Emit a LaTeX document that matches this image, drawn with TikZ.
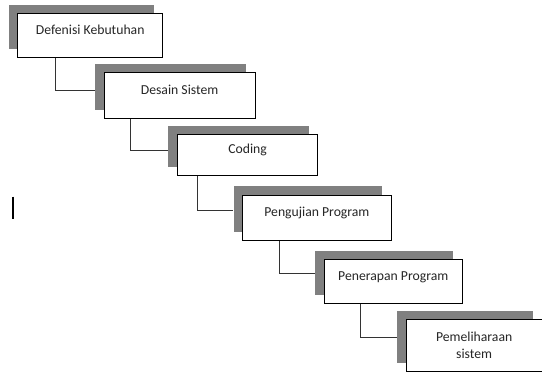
\documentclass[tikz,border=0pt]{standalone}
\usepackage{fontspec}
\setmainfont{Carlito}
\usetikzlibrary{shadows}

\begin{document}
\begin{tikzpicture}[
        x=1pt, y=-1pt,
        stage/.style={rectangle, draw=black, line width=0.8pt, fill=white, inner sep=0pt,
          anchor=north west, align=center, text=black!85,
          font=\fontsize{13.7}{17.3}\selectfont,
          drop shadow={shadow xshift=-9pt, shadow yshift=8.5pt, fill=black!50, opacity=1}},
        oneline/.style={text height=10pt, text depth=12.5pt},
        link/.style={draw=black!80, line width=0.8pt}
      ]
        \useasboundingbox (0,0) rectangle (542,372);

        \node (def) [stage, oneline, minimum width=145pt, minimum height=44.6pt] at (17.3,12.7) {Defenisi Kebutuhan};
        \node (des) [stage, oneline, minimum width=151pt, minimum height=45.4pt] at (103.7,72.3) {Desain Sistem};
        \node (cod) [stage, oneline, minimum width=140.3pt, minimum height=40.7pt] at (177,134.3) {Coding};
        \node (uji) [stage, oneline, minimum width=148.4pt, minimum height=45.5pt] at (242.3,194.5) {Pengujian Program};
        \node (terap) [stage, oneline, minimum width=137.7pt, minimum height=43.4pt] at (324,259.3) {Penerapan Program};
        \node (pelihara) [stage, minimum width=135.5pt, minimum height=51.7pt] at (406,319.3) {Pemeliharaan\\sistem};

        \draw[link] ([xshift=38pt]def.south west) |- ([shift={(-9pt,-18.4pt)}]des.north west);
        \draw[link] ([xshift=27pt]des.south west) |- ([shift={(-9pt,-16.4pt)}]cod.north west);
        \draw[link] ([xshift=20.7pt]cod.south west) |- ([shift={(-9pt,-15.5pt)}]uji.north west);
        \draw[link] ([xshift=37pt]uji.south west) |- ([shift={(-9pt,-14.2pt)}]terap.north west);
        \draw[link] ([xshift=36.2pt]terap.south west) |- ([shift={(-9pt,-18pt)}]pelihara.north west);

        % stray mark at the left
        \draw[line width=1.8pt] (13,196.5) -- (13,218.5);
      \end{tikzpicture}
\end{document}
